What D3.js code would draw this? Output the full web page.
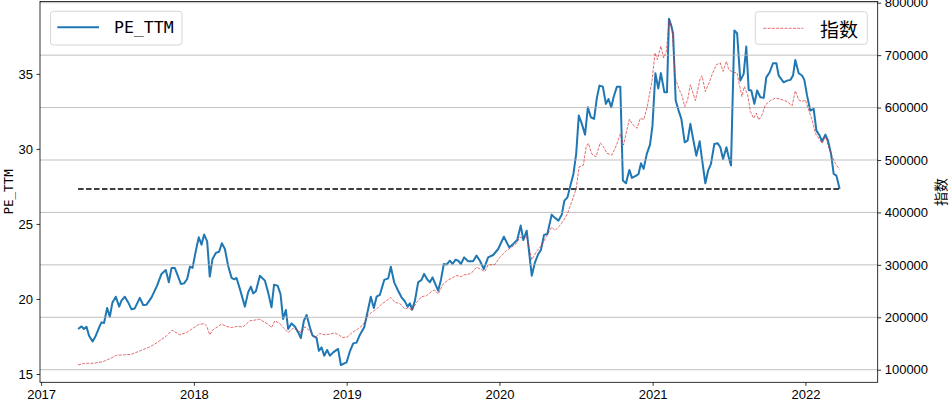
<!DOCTYPE html>
<html><head><meta charset="utf-8">
<script src="https://cdn.jsdelivr.net/npm/d3@7"></script>
<style>body{margin:0;background:#fff}svg{display:block}</style>
</head><body><svg id="chart" width="951" height="404"></svg>
<script>
// ---- data (decimal years) ----
const peYears = [2017.242,2017.265,2017.280,2017.297,2017.314,2017.337,2017.358,2017.380,2017.395,2017.412,2017.432,2017.450,2017.467,2017.489,2017.511,2017.526,2017.548,2017.570,2017.592,2017.613,2017.646,2017.668,2017.690,2017.723,2017.759,2017.788,2017.816,2017.836,2017.854,2017.875,2017.915,2017.936,2017.956,2017.974,2017.991,2018.013,2018.032,2018.050,2018.067,2018.087,2018.104,2018.122,2018.144,2018.165,2018.183,2018.203,2018.224,2018.247,2018.264,2018.279,2018.301,2018.334,2018.355,2018.373,2018.388,2018.406,2018.432,2018.465,2018.486,2018.508,2018.525,2018.548,2018.567,2018.584,2018.602,2018.617,2018.639,2018.661,2018.683,2018.700,2018.720,2018.738,2018.759,2018.777,2018.803,2018.818,2018.836,2018.853,2018.872,2018.890,2018.912,2018.944,2018.962,2018.999,2019.021,2019.043,2019.065,2019.086,2019.115,2019.134,2019.158,2019.178,2019.196,2019.217,2019.246,2019.272,2019.289,2019.311,2019.337,2019.359,2019.381,2019.399,2019.414,2019.429,2019.447,2019.468,2019.490,2019.507,2019.530,2019.545,2019.562,2019.582,2019.599,2019.617,2019.636,2019.654,2019.676,2019.693,2019.713,2019.730,2019.748,2019.769,2019.795,2019.828,2019.850,2019.872,2019.898,2019.926,2019.959,2019.992,2020.029,2020.064,2020.090,2020.116,2020.139,2020.156,2020.178,2020.211,2020.232,2020.254,2020.271,2020.291,2020.313,2020.341,2020.358,2020.385,2020.407,2020.424,2020.444,2020.466,2020.483,2020.501,2020.518,2020.538,2020.559,2020.577,2020.597,2020.618,2020.636,2020.653,2020.675,2020.695,2020.712,2020.730,2020.745,2020.767,2020.789,2020.806,2020.826,2020.848,2020.865,2020.893,2020.908,2020.924,2020.941,2020.962,2020.983,2020.999,2021.018,2021.037,2021.054,2021.077,2021.094,2021.107,2021.122,2021.134,2021.151,2021.170,2021.188,2021.210,2021.229,2021.247,2021.265,2021.286,2021.308,2021.323,2021.345,2021.363,2021.382,2021.404,2021.426,2021.443,2021.461,2021.483,2021.498,2021.513,2021.535,2021.553,2021.574,2021.596,2021.613,2021.629,2021.646,2021.666,2021.684,2021.705,2021.727,2021.744,2021.766,2021.788,2021.810,2021.825,2021.858,2021.880,2021.902,2021.919,2021.934,2021.956,2021.978,2021.993,2022.011,2022.032,2022.054,2022.072,2022.093,2022.109,2022.131,2022.148,2022.168,2022.185,2022.203,2022.224];
const peValues = [18.00,18.17,18.00,18.15,17.55,17.17,17.55,18.11,18.44,18.40,19.40,18.82,19.77,20.15,19.49,19.89,20.15,19.77,19.31,19.37,20.07,19.60,19.62,20.11,20.89,21.67,21.93,21.11,22.07,22.07,21.00,21.04,21.33,22.15,22.07,23.22,24.11,23.62,24.29,23.84,21.49,22.67,23.07,23.15,23.71,23.33,22.22,21.40,21.31,21.40,20.67,19.49,20.44,20.82,20.37,20.51,21.55,21.22,20.44,19.44,20.95,20.89,20.33,18.67,19.27,18.00,18.37,18.17,17.77,17.40,18.55,18.93,18.11,17.55,17.40,16.55,16.77,16.22,16.60,16.22,16.44,16.67,15.60,15.77,16.51,17.04,17.09,17.60,18.11,19.00,20.15,19.40,20.15,20.27,21.27,21.37,22.15,21.11,20.55,20.11,19.84,19.49,19.71,19.29,19.89,21.11,21.27,21.67,21.27,21.11,21.44,20.95,20.55,21.27,22.33,22.29,22.55,22.33,22.62,22.55,22.33,22.77,22.51,22.51,22.89,22.55,22.00,22.77,22.93,23.33,24.15,23.44,23.67,23.93,24.89,23.93,24.55,21.55,22.44,23.00,23.27,24.27,24.33,25.62,25.44,25.22,25.62,26.55,26.77,27.67,28.33,29.67,32.22,31.67,30.95,32.77,32.11,32.00,33.40,34.22,34.15,33.00,33.33,32.77,33.44,34.15,34.15,27.89,27.71,28.60,28.07,28.22,28.33,29.04,28.67,29.67,30.29,31.55,35.04,34.02,35.05,33.77,33.77,38.67,38.22,37.67,33.22,32.55,32.00,30.44,30.55,31.67,30.67,29.55,30.51,29.33,27.71,28.55,29.00,30.33,30.37,30.11,29.33,30.11,29.44,28.89,37.89,37.71,34.55,35.00,36.82,33.93,33.89,33.00,33.89,33.44,33.40,34.77,35.11,35.71,35.71,34.89,34.44,34.55,34.60,34.89,35.93,35.04,34.89,34.60,33.55,32.55,32.67,31.22,30.89,30.51,30.95,30.55,29.67,28.33,28.22,27.33];

const idxYears = [2017.242,2017.286,2017.340,2017.406,2017.450,2017.494,2017.537,2017.592,2017.646,2017.712,2017.766,2017.821,2017.858,2017.908,2017.952,2017.985,2018.028,2018.067,2018.083,2018.104,2018.122,2018.181,2018.214,2018.247,2018.279,2018.322,2018.366,2018.399,2018.432,2018.465,2018.486,2018.508,2018.530,2018.563,2018.584,2018.617,2018.650,2018.683,2018.705,2018.726,2018.759,2018.792,2018.825,2018.857,2018.890,2018.923,2018.949,2018.971,2019.006,2019.036,2019.071,2019.108,2019.137,2019.163,2019.196,2019.229,2019.261,2019.289,2019.316,2019.348,2019.381,2019.407,2019.425,2019.458,2019.490,2019.523,2019.556,2019.577,2019.599,2019.632,2019.665,2019.697,2019.720,2019.752,2019.769,2019.785,2019.818,2019.850,2019.872,2019.905,2019.926,2019.970,2020.003,2020.047,2020.080,2020.112,2020.134,2020.156,2020.178,2020.211,2020.243,2020.276,2020.304,2020.341,2020.363,2020.396,2020.422,2020.444,2020.472,2020.501,2020.520,2020.548,2020.566,2020.581,2020.603,2020.631,2020.658,2020.679,2020.702,2020.734,2020.762,2020.789,2020.810,2020.832,2020.848,2020.872,2020.898,2020.920,2020.942,2020.965,2020.996,2021.016,2021.031,2021.054,2021.072,2021.090,2021.109,2021.127,2021.149,2021.170,2021.193,2021.210,2021.229,2021.247,2021.268,2021.280,2021.312,2021.323,2021.345,2021.367,2021.389,2021.417,2021.443,2021.461,2021.483,2021.498,2021.530,2021.553,2021.563,2021.585,2021.600,2021.622,2021.640,2021.661,2021.679,2021.694,2021.716,2021.738,2021.771,2021.803,2021.836,2021.880,2021.913,2021.934,2021.956,2021.978,2022.000,2022.021,2022.044,2022.065,2022.087,2022.109,2022.131,2022.152,2022.175,2022.196,2022.224];
const idxValues = [109000,112300,112300,115300,121100,127600,128200,129500,135800,143500,153100,164600,175500,166500,170900,177400,185600,188100,183700,166500,175500,187000,182400,180500,182400,181800,193300,194600,196600,190000,187000,180500,193300,188100,180500,170900,179300,174100,170900,181800,174100,161300,169000,166500,167800,170300,166500,161300,162600,170900,177400,185600,202900,209200,215700,225300,231600,237900,228400,226400,215700,218800,212500,228400,239300,241200,249400,252100,244400,263600,271300,276200,279500,277600,281400,280800,284700,295400,292300,287200,300000,300600,314600,327400,333700,341400,352900,349800,354200,309600,326100,337000,352900,372000,365700,375300,386200,397700,420000,445600,487000,490200,525300,531800,511300,506100,533000,525300,512600,509400,526600,549600,528500,557300,577800,566900,560500,579700,577000,601900,651200,704200,691400,717200,694600,707300,769300,748900,656300,637200,622400,601900,614800,643500,624300,613400,656300,660700,630700,645400,662600,681800,685100,669000,688100,672200,667000,665900,649800,621100,640200,624300,592300,579700,589300,576400,586000,605200,613400,618000,616100,611500,603300,632000,614800,611500,614800,595600,576400,551000,541400,531800,544400,525300,506100,493500,482000];

const xTickYears = [2017,2018,2019,2020,2021,2022];
const leftTicks = [15,20,25,30,35];
const rightTicks = [100000,200000,300000,400000,500000,600000,700000,800000];
const peName = "PE_TTM";
const idxName = "指数";

// ---- helpers ----
function toDate(y){
  const yr = Math.floor(y);
  const s = Date.UTC(yr,0,1), e = Date.UTC(yr+1,0,1);
  return new Date(s + (y-yr)*(e-s));
}
function padExtent(ext, f){ const s = ext[1]-ext[0]; return [ext[0]-s*f, ext[1]+s*f]; }

const pe = peYears.map((y,i)=>({d:toDate(y), v:peValues[i]}));
const idx = idxYears.map((y,i)=>({d:toDate(y), v:idxValues[i]}));

const box = {l:40, r:877.7, t:1.5, b:382.3};
const svg = d3.select("#chart");
const tickFont = "'Liberation Sans', Arial, sans-serif";

const allT = pe.concat(idx).map(p=>+p.d);
const xDom = padExtent(d3.extent(allT), 0.05);
const x = d3.scaleUtc().domain([new Date(xDom[0]), new Date(xDom[1])]).range([box.l, box.r]);
const yL = d3.scaleLinear().domain(padExtent(d3.extent(peValues),0.05)).range([box.b, box.t]);
const yR = d3.scaleLinear().domain(padExtent(d3.extent(idxValues),0.05)).range([box.b, box.t]);

// ---- ax1: PE line + current level ----
const lineL = d3.line().x(p=>x(p.d)).y(p=>yL(p.v));
svg.append("path").datum(pe).attr("d", lineL)
  .attr("fill","none").attr("stroke","#1f77b4").attr("stroke-width",2)
  .attr("stroke-linejoin","round");

const currentPE = peValues[peValues.length-1];
svg.append("line")
  .attr("x1", x(pe[0].d)).attr("x2", x(pe[pe.length-1].d))
  .attr("y1", yL(currentPE)).attr("y2", yL(currentPE))
  .attr("stroke","#000").attr("stroke-width",1.5).attr("stroke-dasharray","5.55,2.4");

// left legend
const lg1 = svg.append("g");
lg1.append("rect").attr("x",50.5).attr("y",11.3).attr("width",131.5).attr("height",33.7).attr("rx",3)
  .attr("fill","#fff").attr("fill-opacity",0.8).attr("stroke","#cccccc").attr("stroke-width",0.8);
lg1.append("line").attr("x1",57.3).attr("x2",99).attr("y1",27.3).attr("y2",27.3)
  .attr("stroke","#1f77b4").attr("stroke-width",2);
lg1.append("text").attr("x",114).attr("y",27.5).attr("dominant-baseline","central")
  .attr("font-family","'DejaVu Sans Mono', monospace").attr("font-size",16.5).attr("fill","#000").text(peName);

// ---- ax2: grid + index line ----
const grid = svg.append("g");
rightTicks.forEach(t=>{
  const yy = yR(t);
  if (yy < box.t || yy > box.b) return;
  grid.append("line").attr("x1",box.l).attr("x2",box.r).attr("y1",yy).attr("y2",yy)
    .attr("stroke","#b0b0b0").attr("stroke-width",0.8);
});

const lineR = d3.line().x(p=>x(p.d)).y(p=>yR(p.v));
svg.append("path").datum(idx).attr("d", lineR)
  .attr("fill","none").attr("stroke","#d62728").attr("stroke-opacity",0.85).attr("stroke-width",0.8)
  .attr("stroke-dasharray","2.96,1.28");

// right legend
const lg2 = svg.append("g");
lg2.append("rect").attr("x",755.3).attr("y",11.7).attr("width",112).attr("height",32.6).attr("rx",3)
  .attr("fill","#fff").attr("fill-opacity",0.8).attr("stroke","#cccccc").attr("stroke-width",0.8);
lg2.append("line").attr("x1",763.3).attr("x2",803.3).attr("y1",28.3).attr("y2",28.3)
  .attr("stroke","#d62728").attr("stroke-opacity",0.85).attr("stroke-width",0.8).attr("stroke-dasharray","2.96,1.28");
lg2.append("text").attr("x",820).attr("y",28).attr("dominant-baseline","central")
  .attr("font-family","'Noto Sans CJK SC', sans-serif").attr("font-size",19).attr("fill","#000").text(idxName);

// ---- frame ----
svg.append("rect").attr("x",box.l).attr("y",box.t).attr("width",box.r-box.l).attr("height",box.b-box.t)
  .attr("fill","none").attr("stroke","#000").attr("stroke-width",0.8);

// ---- axes ----
function styleAxis(g){
  g.select(".domain").remove();
  g.selectAll(".tick line").attr("stroke","#000").attr("stroke-width",0.8);
  g.selectAll(".tick text").attr("font-family",tickFont).attr("font-size",13).attr("fill","#000");
}
svg.append("g").attr("transform",`translate(0,${box.b})`)
  .call(d3.axisBottom(x).tickValues(xTickYears.map(y=>new Date(Date.UTC(y,0,1))))
    .tickFormat(d3.utcFormat("%Y")).tickSize(3.5).tickPadding(3.5))
  .call(styleAxis);
svg.append("g").attr("transform",`translate(${box.l},0)`)
  .call(d3.axisLeft(yL).tickValues(leftTicks).tickFormat(d3.format("d")).tickSize(3.5).tickPadding(3.5))
  .call(styleAxis);
svg.append("g").attr("transform",`translate(${box.r},0)`)
  .call(d3.axisRight(yR).tickValues(rightTicks.filter(t=>yR(t)>=box.t-1)).tickFormat(d3.format("d")).tickSize(3.5).tickPadding(3.5))
  .call(styleAxis);

// axis labels
svg.append("text").attr("transform",`translate(8,${(box.t+box.b)/2}) rotate(-90)`)
  .attr("text-anchor","middle").attr("dominant-baseline","central")
  .attr("font-family","'DejaVu Sans Mono', monospace").attr("font-size",12.5).attr("fill","#000").text(peName);
svg.append("text").attr("transform",`translate(940,${(box.t+box.b)/2}) rotate(-90)`)
  .attr("text-anchor","middle").attr("dominant-baseline","central")
  .attr("font-family","'Noto Sans CJK SC', sans-serif").attr("font-size",14).attr("fill","#000").text(idxName);
</script></body></html>
